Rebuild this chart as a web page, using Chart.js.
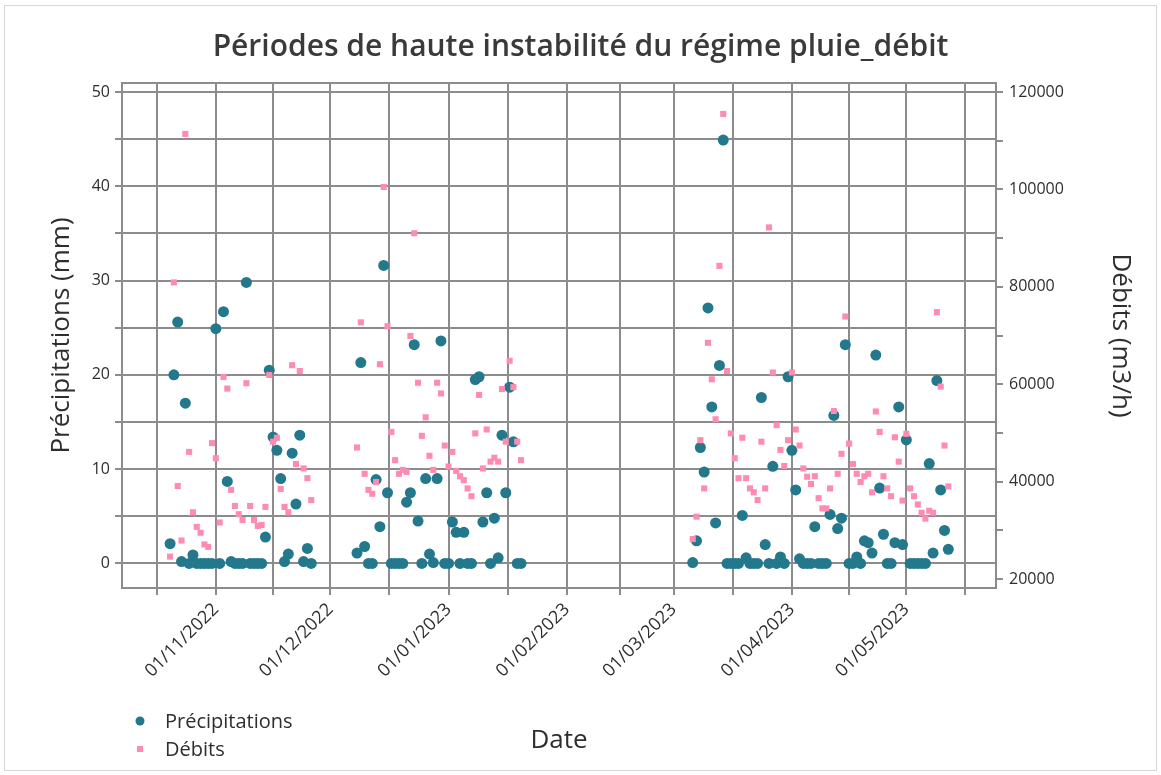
<!DOCTYPE html>
<html lang="fr">
<head>
<meta charset="utf-8">
<title>Périodes de haute instabilité du régime pluie_débit</title>
<script src="https://cdn.jsdelivr.net/npm/chart.js@4.4.1/dist/chart.umd.min.js"></script>
<style>
  html, body { margin: 0; padding: 0; background: #fff; }
  #wrap { width: 1161px; height: 775px; }
</style>
</head>
<body>
<div id="wrap"><canvas id="chart" width="1161" height="775"></canvas></div>
<script>
// Période 1 : octobre - novembre 2022
const octNovDates = [
  '20/10/2022','21/10/2022','22/10/2022','23/10/2022','24/10/2022','25/10/2022','26/10/2022',
  '27/10/2022','28/10/2022','29/10/2022','30/10/2022','31/10/2022','01/11/2022','02/11/2022',
  '03/11/2022','04/11/2022','05/11/2022','06/11/2022','07/11/2022','08/11/2022','09/11/2022',
  '10/11/2022','11/11/2022','12/11/2022','13/11/2022','14/11/2022','15/11/2022','16/11/2022',
  '17/11/2022','18/11/2022','19/11/2022','20/11/2022','21/11/2022','22/11/2022','23/11/2022',
  '24/11/2022','25/11/2022','26/11/2022'
];
const octNovPluie = [
  2.1, 20.0, 25.6, 0.2, 17.0, 0, 0.9, 0, 0, 0, 0, 0, 24.9, 0, 26.7, 8.7, 0.2, 0, 0,
  0, 29.8, 0, 0, 0, 0, 2.8, 20.5, 13.4, 12.0, 9.0, 0.2, 1.0, 11.7, 6.3, 13.6, 0.2, 1.6, 0
];
const octNovDebit = [
  24600, 80900, 39100, 27900, 111400, 46100, 33700, 30700, 29500, 27100, 26600, 47900, 44800,
  31600, 61500, 59100, 38300, 35000, 33300, 32100, 60200, 35000, 32100, 30900, 31100, 34800,
  61900, 48200, 49000, 38500, 34800, 33700, 63900, 43600, 62700, 42700, 40700, 36200
];

// Période 2 : décembre 2022 - janvier 2023
const decJanDates = [
  '08/12/2022','09/12/2022','10/12/2022','11/12/2022','12/12/2022','13/12/2022','14/12/2022',
  '15/12/2022','16/12/2022','17/12/2022','18/12/2022','19/12/2022','20/12/2022','21/12/2022',
  '22/12/2022','23/12/2022','24/12/2022','25/12/2022','26/12/2022','27/12/2022','28/12/2022',
  '29/12/2022','30/12/2022','31/12/2022','01/01/2023','02/01/2023','03/01/2023','04/01/2023',
  '05/01/2023','06/01/2023','07/01/2023','08/01/2023','09/01/2023','10/01/2023','11/01/2023',
  '12/01/2023','13/01/2023','14/01/2023','15/01/2023','16/01/2023','17/01/2023','18/01/2023',
  '19/01/2023','20/01/2023'
];
const decJanPluie = [
  1.1, 21.3, 1.8, 0, 0, 8.9, 3.9, 31.6, 7.5, 0, 0, 0, 0, 6.5, 7.5, 23.2, 4.5, 0, 9.0, 1.0,
  0.1, 9.0, 23.6, 0, 0, 4.4, 3.3, 0, 3.3, 0, 0, 19.5, 19.8, 4.4, 7.5, 0, 4.8, 0.6, 13.6, 7.5,
  18.7, 12.9, 0, 0
];
const decJanDebit = [
  47000, 72700, 41600, 38300, 37500, 39900, 64100, 100500, 71900, 50200, 44400, 41600, 42400,
  42000, 69900, 91000, 60300, 49400, 53200, 45300, 42400, 60300, 58100, 47400, 43100, 46100,
  42200, 41100, 40300, 38600, 37000, 49900, 57800, 42700, 50700, 44100, 44900, 44100, 59000,
  48200, 64800, 59400, 48200, 44400
];

// Période 3 : mars - mai 2023
const marMaiDates = [
  '06/03/2023','07/03/2023','08/03/2023','09/03/2023','10/03/2023','11/03/2023','12/03/2023',
  '13/03/2023','14/03/2023','15/03/2023','16/03/2023','17/03/2023','18/03/2023','19/03/2023',
  '20/03/2023','21/03/2023','22/03/2023','23/03/2023','24/03/2023','25/03/2023','26/03/2023',
  '27/03/2023','28/03/2023','29/03/2023','30/03/2023','31/03/2023','01/04/2023','02/04/2023',
  '03/04/2023','04/04/2023','05/04/2023','06/04/2023','07/04/2023','08/04/2023','09/04/2023',
  '10/04/2023','11/04/2023','12/04/2023','13/04/2023','14/04/2023','15/04/2023','16/04/2023',
  '17/04/2023','18/04/2023','19/04/2023','20/04/2023','21/04/2023','22/04/2023','23/04/2023',
  '24/04/2023','25/04/2023','26/04/2023','27/04/2023','28/04/2023','29/04/2023','30/04/2023',
  '01/05/2023','02/05/2023','03/05/2023','04/05/2023','05/05/2023','06/05/2023','07/05/2023',
  '08/05/2023','09/05/2023','10/05/2023','11/05/2023','12/05/2023'
];
const marMaiPluie = [
  0.1, 2.4, 12.3, 9.7, 27.1, 16.6, 4.3, 21.0, 44.9, 0, 0, 0, 0, 5.1, 0.6, 0, 0, 0, 17.6, 2.0,
  0, 10.3, 0, 0.7, 0, 19.8, 12.0, 7.8, 0.5, 0, 0, 0, 3.9, 0, 0, 0, 5.2, 15.7, 3.7, 4.8,
  23.2, 0, 0, 0.7, 0, 2.4, 2.2, 1.1, 22.1, 8.0, 3.1, 0, 0, 2.2, 16.6, 2.0, 13.1, 0, 0, 0,
  0, 0, 10.6, 1.1, 19.4, 7.8, 3.5, 1.5
];
const marMaiDebit = [
  28200, 32800, 48500, 38600, 68500, 61000, 52800, 84300, 115500, 62700,
  49900, 44800, 40700, 49000, 40700, 38600, 37800, 36200, 48200, 38600,
  92200, 62400, 51600, 46500, 43200, 48500, 62400, 50700, 47400, 42700,
  41000, 39500, 41100, 36600, 34500, 34500, 38600, 54500, 41600, 45700,
  73900, 47800, 43600, 41600, 39900, 41100, 41600, 37800, 54400, 50200,
  41100, 38600, 37000, 49100, 44100, 36100, 49800, 38600, 37000, 35300,
  33600, 32400, 34000, 33600, 74800, 59500, 47400, 39000
];

// axe des dates : débuts de mois (libellés) + graduations intermédiaires
const monthStarts = [
  '01/10/2022','01/11/2022','01/12/2022','01/01/2023','01/02/2023',
  '01/03/2023','01/04/2023','01/05/2023','01/06/2023'
];
const pluieTicks = [0, 5, 10, 15, 20, 25, 30, 35, 40, 45, 50];
const debitTicks = [20000, 30000, 40000, 50000, 60000, 70000, 80000, 90000, 100000, 110000, 120000];

const DAY = 86400000;
const FONT = "'Open Sans', 'Noto Sans', sans-serif";
const GRID = '#8c8c8c';
const TEXT = '#2e2e2e';
const C_PLUIE = '#23788c';
const C_DEBIT = '#ff8ab2';

function toDay(s) {
  const [d, m, y] = s.split('/').map(Number);
  return Date.UTC(y, m - 1, d) / DAY;
}
function fmtDay(v) {
  const dt = new Date(v * DAY);
  const p = n => String(n).padStart(2, '0');
  return p(dt.getUTCDate()) + '/' + p(dt.getUTCMonth() + 1) + '/' + dt.getUTCFullYear();
}
function points(dates, vals) {
  return dates.map((d, i) => ({ x: toDay(d), y: vals[i] }));
}

const pluieData = [
  ...points(octNovDates, octNovPluie),
  ...points(decJanDates, decJanPluie),
  ...points(marMaiDates, marMaiPluie)
];
const debitData = [
  ...points(octNovDates, octNovDebit),
  ...points(decJanDates, decJanDebit),
  ...points(marMaiDates, marMaiDebit)
];

const xMin = toDay('07/10/2022') + 0.4;
const xMax = toDay('24/05/2023') + 0.5;
const monthDays = monthStarts.map(toDay);
const labelDays = new Set(monthDays);

function dateTicks() {
  const out = [];
  monthDays.forEach((d, i) => {
    out.push(d);
    if (i < monthDays.length - 1) out.push((d + monthDays[i + 1]) / 2);
  });
  return out.filter(v => v >= xMin && v <= xMax).map(v => ({ value: v }));
}

// cadre du graphique, légende en bas à gauche, bordure extérieure
const decorPlugin = {
  id: 'decor',
  beforeDatasetsDraw(chart) {
    const { ctx, chartArea: a } = chart;
    ctx.save();
    ctx.strokeStyle = GRID;
    ctx.lineWidth = 2;
    ctx.strokeRect(a.left, a.top, a.right - a.left, a.bottom - a.top);
    ctx.restore();
  },
  afterDraw(chart) {
    const { ctx } = chart;
    ctx.save();
    ctx.strokeStyle = '#d6d6d6';
    ctx.lineWidth = 1;
    ctx.strokeRect(4.5, 5.5, 1152, 765);

    ctx.font = '20px ' + FONT;
    ctx.textBaseline = 'middle';
    ctx.textAlign = 'left';
    const items = chart.data.datasets;
    // Précipitations
    ctx.fillStyle = items[0].backgroundColor;
    ctx.beginPath();
    ctx.arc(140, 721, 4.5, 0, Math.PI * 2);
    ctx.fill();
    ctx.fillStyle = TEXT;
    ctx.fillText(items[0].label, 165, 722);
    // Débits
    ctx.fillStyle = items[1].backgroundColor;
    ctx.fillRect(137, 746, 6, 6);
    ctx.fillStyle = TEXT;
    ctx.fillText(items[1].label, 165, 750);
    ctx.restore();
  }
};

new Chart(document.getElementById('chart'), {
  type: 'scatter',
  data: {
    datasets: [
      {
        label: 'Précipitations',
        data: pluieData,
        yAxisID: 'y',
        pointStyle: 'circle',
        pointRadius: 5.5,
        borderWidth: 0,
        backgroundColor: C_PLUIE,
        borderColor: C_PLUIE,
        order: 2
      },
      {
        label: 'Débits',
        data: debitData,
        yAxisID: 'y1',
        pointStyle: 'rect',
        pointRadius: 4.3,
        borderWidth: 0,
        backgroundColor: C_DEBIT,
        borderColor: C_DEBIT,
        order: 1
      }
    ]
  },
  options: {
    responsive: false,
    animation: false,
    layout: { padding: 0 },
    plugins: {
      legend: { display: false },
      tooltip: { enabled: false },
      title: {
        display: true,
        text: 'Périodes de haute instabilité du régime pluie_débit',
        color: '#3a3a3a',
        font: { family: FONT, size: 30, weight: '600' },
        padding: { top: 29, bottom: 18 }
      }
    },
    scales: {
      x: {
        type: 'linear',
        min: xMin,
        max: xMax,
        afterBuildTicks: s => { s.ticks = dateTicks(); },
        afterFit: s => { s.height = 187; },
        grid: { color: GRID, lineWidth: 2, tickLength: 7 },
        border: { display: true, color: GRID, width: 2 },
        ticks: {
          autoSkip: false,
          minRotation: 45,
          maxRotation: 45,
          padding: 4,
          color: TEXT,
          font: { family: FONT, size: 18 },
          callback: v => labelDays.has(v) ? fmtDay(v) : ''
        },
        title: {
          display: true,
          text: 'Date',
          color: TEXT,
          font: { family: FONT, size: 26 },
          padding: { top: 0, bottom: 19 }
        }
      },
      y: {
        position: 'left',
        min: -2.6,
        max: 50.95,
        afterBuildTicks: s => { s.ticks = pluieTicks.map(v => ({ value: v })); },
        afterFit: s => { s.width = 122; },
        grid: { color: GRID, lineWidth: 2, tickLength: 7 },
        border: { display: true, color: GRID, width: 2 },
        ticks: {
          padding: 5,
          color: TEXT,
          font: { family: FONT, size: 16 },
          callback: v => v % 10 === 0 ? String(v) : ''
        },
        title: {
          display: true,
          text: 'Précipitations (mm)',
          color: TEXT,
          font: { family: FONT, size: 26 },
          padding: { top: 46, bottom: 0 }
        }
      },
      y1: {
        position: 'right',
        min: 18150,
        max: 121850,
        afterBuildTicks: s => { s.ticks = debitTicks.map(v => ({ value: v })); },
        afterFit: s => { s.width = 165; },
        grid: { drawOnChartArea: false, color: GRID, lineWidth: 2, tickLength: 7 },
        border: { display: true, color: GRID, width: 2 },
        ticks: {
          padding: 6,
          color: TEXT,
          font: { family: FONT, size: 16 },
          callback: v => v % 20000 === 0 ? String(v) : ''
        },
        title: {
          display: true,
          text: 'Débits (m3/h)',
          color: TEXT,
          font: { family: FONT, size: 26 },
          padding: { top: 25, bottom: 0 }
        }
      }
    }
  },
  plugins: [decorPlugin]
});
</script>
</body>
</html>
